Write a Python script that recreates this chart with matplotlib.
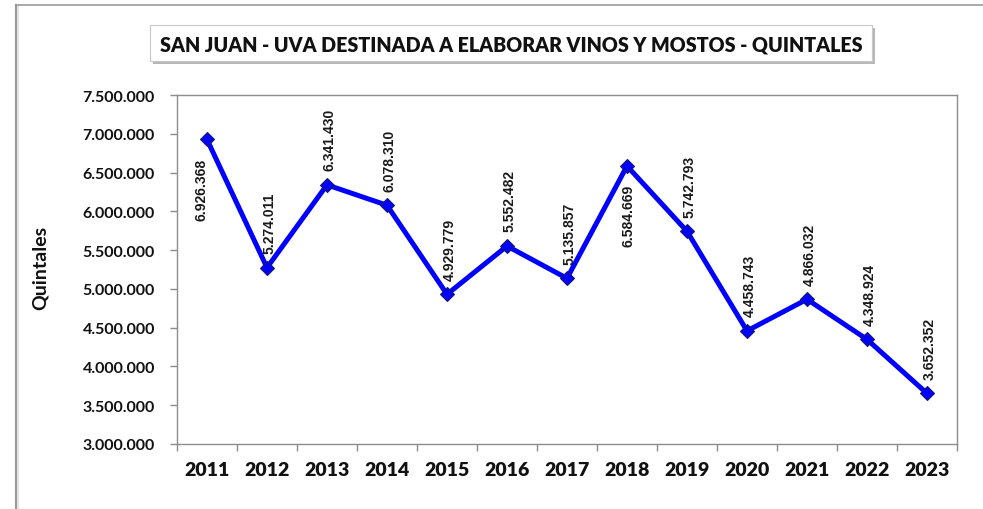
import matplotlib
matplotlib.use("Agg")
import matplotlib.pyplot as plt
from matplotlib.patches import Rectangle
from matplotlib.lines import Line2D
from matplotlib.ticker import FuncFormatter, FixedLocator

# Data
years = ["2011", "2012", "2013", "2014", "2015", "2016", "2017",
         "2018", "2019", "2020", "2021", "2022", "2023"]
quintales = [6926368, 5274011, 6341430, 6078310, 4929779, 5552482, 5135857,
             6584669, 5742793, 4458743, 4866032, 4348924, 3652352]
label_below = ["2011", "2018"]

title = "SAN JUAN - UVA DESTINADA A ELABORAR VINOS Y MOSTOS - QUINTALES"

W, H = 983, 510
fig = plt.figure(figsize=(W / 100, H / 100), dpi=100)
fig.patch.set_facecolor("white")

tick_font = ["Lato", "Open Sans", "DejaVu Sans"]
label_font = ["Liberation Sans", "DejaVu Sans"]


def fx(px):
    return px / W


def fy(py):
    return 1 - py / H


# Outer chart border (top and left visible)
fig.add_artist(Line2D([fx(16), 1], [fy(6), fy(6)], color="#9a9a9a", lw=1.2))
fig.add_artist(Line2D([fx(16), fx(16)], [fy(6), 0], color="#9a9a9a", lw=1.6))
fig.add_artist(Line2D([fx(18), fx(18)], [fy(8), 0], color="#dddddd", lw=1.2))

# Plot area
left, right, top, bottom = 177, 957, 96, 445
ax = fig.add_axes([fx(left), fy(bottom), fx(right - left), (bottom - top) / H])

x = list(range(len(years)))
ax.plot(x, quintales, color="#0000FF", lw=3.6, marker="D", markersize=7.5,
        markerfacecolor="#0000FF", markeredgecolor="#1a1a66", markeredgewidth=0.8,
        zorder=3)

for xi, yr, v in zip(x, years, quintales):
    txt = f"{v:,}".replace(",", ".")
    if yr in label_below:
        ax.annotate(txt, (xi, v), xytext=(-4 if yr == "2011" else 1, -13),
                    textcoords="offset points", rotation=90, ha="center", va="top",
                    fontsize=10, family=label_font, fontweight="bold",
                    color="#1a1a1a", zorder=4)
    else:
        ax.annotate(txt, (xi, v), xytext=(2, 10.5), textcoords="offset points",
                    rotation=90, ha="center", va="bottom",
                    fontsize=10, family=label_font, fontweight="bold",
                    color="#1a1a1a", zorder=4)

ax.set_xlim(-0.5, len(years) - 0.5)
ax.set_ylim(3000000, 7500000)
ax.set_yticks(range(3000000, 7500001, 500000))
ax.yaxis.set_major_formatter(FuncFormatter(lambda v, p: f"{int(v):,}".replace(",", ".")))

ax.set_xticks(x)
ax.set_xticklabels(years)
ax.xaxis.set_minor_locator(FixedLocator([i - 0.5 for i in range(len(years) + 1)]))
ax.tick_params(axis="x", which="major", length=0, pad=12)
ax.tick_params(axis="x", which="minor", length=5, width=1, color="#8c8c8c")
ax.tick_params(axis="y", length=5, width=1, color="#8c8c8c", pad=11)

for lab in ax.get_xticklabels():
    lab.set_fontfamily(tick_font)
    lab.set_fontweight("heavy")
    lab.set_fontsize(14)
    lab.set_color("#111111")
for lab in ax.get_yticklabels():
    lab.set_fontfamily(tick_font)
    lab.set_fontweight("bold")
    lab.set_fontsize(11.5)
    lab.set_color("#111111")

for s in ax.spines.values():
    s.set_color("#8c8c8c")
    s.set_linewidth(1)

fig.text(fx(40), fy(268), "Quintales", rotation=90, ha="center", va="center",
         fontsize=14, fontweight="bold", family=tick_font, color="#111111")

# Title box with shadow
bx0, bx1, by0, by1 = 150, 872, 26, 62
fig.add_artist(Rectangle((fx(bx0 + 3), fy(by1 + 3)), fx(bx1 - bx0), (by1 - by0) / H,
                         facecolor="#b8b8b8", edgecolor="none", zorder=1))
fig.add_artist(Rectangle((fx(bx0), fy(by1)), fx(bx1 - bx0), (by1 - by0) / H,
                         facecolor="white", edgecolor="#c8c8c8", lw=0.8, zorder=2))
t = fig.text(fx((bx0 + bx1) / 2), fy(45), title, ha="center", va="center",
             fontsize=15, fontweight="heavy", family=tick_font, color="#111111", zorder=3)

# fit title width to the box
fig.canvas.draw()
w = t.get_window_extent().width
t.set_fontsize(15 * 705 / w)

fig.savefig("out.png", dpi=100, facecolor="white")
